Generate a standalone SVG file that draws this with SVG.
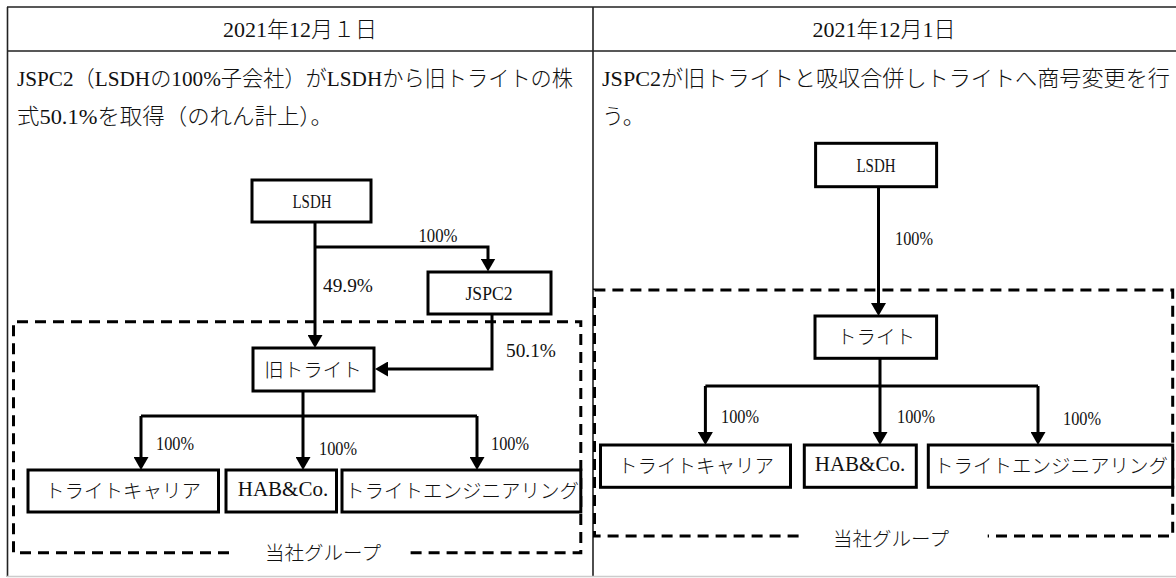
<svg xmlns="http://www.w3.org/2000/svg" width="1176" height="578" viewBox="0 0 1176 578">
<style>
text{font-family:"Liberation Serif","Noto Sans CJK JP",serif;fill:#111;dominant-baseline:central;font-weight:400}
.j{font-weight:300}
.t{font-size:22px}
.b{font-size:19.5px;text-anchor:middle}
.p{font-size:19px;text-anchor:middle}
.box{fill:#fff;stroke:#000;stroke-width:3}
.tbl{stroke:#222;stroke-width:1.6;fill:none}
.dash{fill:none;stroke:#000;stroke-width:3;stroke-dasharray:11 7}
.c{fill:none;stroke:#000;stroke-width:3}
.a{marker-end:url(#arr)}
</style>
<defs>
<marker id="arr" viewBox="0 0 13 15" markerWidth="13" markerHeight="15" markerUnits="userSpaceOnUse" refX="7" refY="7.5" orient="auto">
<path d="M0,0 L13,7.5 L0,15 z" fill="#000"/>
</marker>
</defs>
<rect width="1176" height="578" fill="#fff"/>
<g id="table">
<path class="tbl" d="M7,7 H1176 M7,51 H1176 M7.5,7 V577 M593,7 V577"/>
<path d="M7,576.5 H1176" stroke="#ccc" stroke-width="1.5"/>
<text class="t" x="300" y="29" text-anchor="middle">2021<tspan class="j">年</tspan>12<tspan class="j">月１日</tspan></text>
<text class="t" x="884" y="29" text-anchor="middle">2021<tspan class="j">年</tspan>12<tspan class="j">月</tspan>1<tspan class="j">日</tspan></text>
<text class="t" x="17" y="78" textLength="556" lengthAdjust="spacingAndGlyphs">JSPC2<tspan class="j">（</tspan>LSDH<tspan class="j">の</tspan>100%<tspan class="j">子会社）が</tspan>LSDH<tspan class="j">から旧トライトの株</tspan></text>
<text class="t" x="17" y="116" textLength="316" lengthAdjust="spacingAndGlyphs"><tspan class="j">式</tspan>50.1%<tspan class="j">を取得（のれん計上）。</tspan></text>
<text class="t" x="602" y="78" textLength="568" lengthAdjust="spacingAndGlyphs">JSPC2<tspan class="j">が旧トライトと吸収合併しトライトへ商号変更を行</tspan></text>
<text class="t j" x="602" y="116">う。</text>
</g>
<g id="group-left">
<path class="dash" d="M229,552.7 H13.5 V321.7 H580.8 V552.7 H407"/>
<text class="b j" x="323" y="553">当社グループ</text>
</g>
<g id="group-right">
<path class="dash" d="M798.6,536 H594.5 V290 H1172.7 V536 H987.7"/>
<text class="b j" x="891" y="539">当社グループ</text>
</g>
<g id="connectors">
<path class="c a" d="M315,222 V342"/>
<path class="c a" d="M315,247 H488 V265.5"/>
<path class="c a" d="M492,314 V369 H381"/>
<path class="c" d="M303,391 V416 M141,416 H477"/>
<path class="c a" d="M141,416 V464"/>
<path class="c a" d="M303,416 V464"/>
<path class="c a" d="M477,416 V464"/>
<path class="c a" d="M878.5,187 V310"/>
<path class="c" d="M880,358 V386 M705.4,386 H1038"/>
<path class="c a" d="M705.4,386 V439"/>
<path class="c a" d="M880,386 V439"/>
<path class="c a" d="M1038,386 V439"/>
<text class="p" x="438" y="235" textLength="39" lengthAdjust="spacingAndGlyphs">100%</text>
<text class="p" x="348" y="285" textLength="50" lengthAdjust="spacingAndGlyphs">49.9%</text>
<text class="p" x="531" y="350" textLength="50" lengthAdjust="spacingAndGlyphs">50.1%</text>
<text class="p" x="175" y="443" textLength="38" lengthAdjust="spacingAndGlyphs">100%</text>
<text class="p" x="338" y="448" textLength="38" lengthAdjust="spacingAndGlyphs">100%</text>
<text class="p" x="510" y="443" textLength="38" lengthAdjust="spacingAndGlyphs">100%</text>
<text class="p" x="914" y="238" textLength="38" lengthAdjust="spacingAndGlyphs">100%</text>
<text class="p" x="740" y="416" textLength="38" lengthAdjust="spacingAndGlyphs">100%</text>
<text class="p" x="916" y="416" textLength="38" lengthAdjust="spacingAndGlyphs">100%</text>
<text class="p" x="1082" y="418" textLength="38" lengthAdjust="spacingAndGlyphs">100%</text>
</g>
<g id="lsdh-left">
<rect class="box" x="252" y="180" width="119" height="42"/>
<text class="b" x="312" y="201" textLength="39" lengthAdjust="spacingAndGlyphs">LSDH</text>
</g>
<g id="jspc2">
<rect class="box" x="428" y="272" width="123" height="42"/>
<text class="b" x="489" y="293" textLength="47" lengthAdjust="spacingAndGlyphs">JSPC2</text>
</g>
<g id="old-trite">
<rect class="box" x="253" y="348" width="121" height="43"/>
<text class="b j" x="313" y="370">旧トライト</text>
</g>
<g id="career-left">
<rect class="box" x="28" y="470" width="190.5" height="42"/>
<text class="b j" x="123" y="491">トライトキャリア</text>
</g>
<g id="hab-left">
<rect class="box" x="226" y="470" width="110.5" height="42"/>
<text class="b" x="283" y="489" style="font-size:21px">HAB&amp;Co.</text>
</g>
<g id="eng-left">
<rect class="box" x="342" y="470" width="238.8" height="42"/>
<text class="b j" x="462" y="491">トライトエンジニアリング</text>
</g>
<g id="lsdh-right">
<rect class="box" x="815.6" y="143.3" width="121" height="43.4"/>
<text class="b" x="876" y="165" textLength="39" lengthAdjust="spacingAndGlyphs">LSDH</text>
</g>
<g id="trite">
<rect class="box" x="815" y="316" width="121.6" height="42.3"/>
<text class="b j" x="876" y="337">トライト</text>
</g>
<g id="career-right">
<rect class="box" x="600.5" y="445" width="190" height="42.3"/>
<text class="b j" x="696" y="466">トライトキャリア</text>
</g>
<g id="hab-right">
<rect class="box" x="804.3" y="445" width="112" height="42.3"/>
<text class="b" x="860" y="464" style="font-size:21px">HAB&amp;Co.</text>
</g>
<g id="eng-right">
<rect class="box" x="928.3" y="445" width="244.4" height="42.3"/>
<text class="b j" x="1051" y="466">トライトエンジニアリング</text>
</g>
</svg>
